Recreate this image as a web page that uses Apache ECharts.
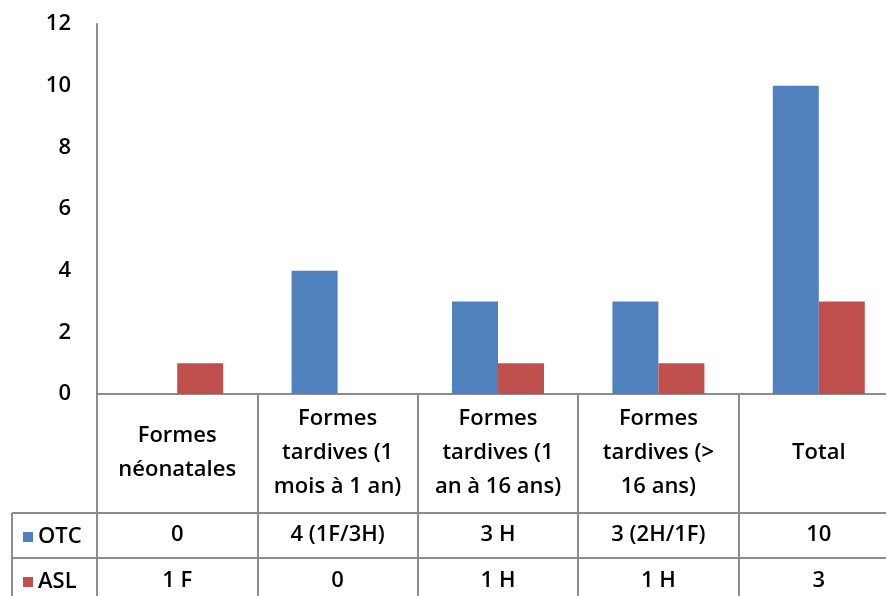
<!DOCTYPE html>
<html>
<head>
<meta charset="utf-8">
<script src="https://cdn.jsdelivr.net/npm/echarts@6/dist/echarts.min.js"></script>
<style>
  html, body { margin: 0; padding: 0; background: #fff; }
  #chart { width: 886px; height: 596px; }
</style>
</head>
<body>
<div id="chart"></div>
<script>
// Categories (table header) and the two series
const categories = [
  'Formes\nnéonatales',
  'Formes\ntardives (1\nmois à 1 an)',
  'Formes\ntardives (1\nan à 16 ans)',
  'Formes\ntardives (>\n16 ans)',
  'Total'
];
const otcValues = [0, 4, 3, 3, 10];
const aslValues = [1, 0, 1, 1, 3];
// Data-table row texts
const otcTexts = ['0', '4 (1F/3H)', '3 H', '3 (2H/1F)', '10'];
const aslTexts = ['1 F', '0', '1 H', '1 H', '3'];
const yTicks = [0, 2, 4, 6, 8, 10, 12];

const FONT = 'Open Sans';
const GRID_LEFT = 97, GRID_TOP = 24, GRID_BOTTOM = 202, GRID_WIDTH = 802;
const chart = echarts.init(document.getElementById('chart'), null, { renderer: 'canvas' });

const lineColor = '#8c8c8c';
const baseText = { fontFamily: FONT, fontSize: 22, fontWeight: 600, color: '#000' };

function rowAxis(texts, margin) {
  return {
    type: 'category',
    data: categories,
    position: 'bottom',
    axisLine: { show: false },
    axisTick: { show: false },
    axisLabel: Object.assign({}, baseText, {
      margin: margin,
      verticalAlign: 'middle',
      interval: 0,
      formatter: (v, i) => texts[i]
    })
  };
}

function keyLegend(name, top) {
  return {
    orient: 'vertical',
    left: 18, top: top,
    itemWidth: 10, itemHeight: 10,
    itemGap: 4,
    icon: 'rect',
    textStyle: Object.assign({}, baseText, { fontSize: 22 }),
    data: [name]
  };
}

const H = 596;
const axisY = H - GRID_BOTTOM;
const row1 = 513, row2 = 558;

chart.setOption({
  animation: false,
  grid: {
    left: GRID_LEFT, top: GRID_TOP, width: GRID_WIDTH, bottom: GRID_BOTTOM,
    containLabel: false, outerBoundsMode: 'none'
  },
  legend: [keyLegend('OTC', 521), keyLegend('ASL', 566)],
  xAxis: [
    {
      type: 'category',
      data: categories,
      position: 'bottom',
      axisLine: { lineStyle: { color: lineColor, width: 2 } },
      axisTick: { show: true, length: GRID_BOTTOM, alignWithLabel: false, lineStyle: { color: lineColor, width: 2 } },
      axisLabel: Object.assign({}, baseText, {
        margin: 59,
        verticalAlign: 'middle',
        lineHeight: 34,
        interval: 0
      })
    },
    rowAxis(otcTexts, row1 - axisY + 22),
    rowAxis(aslTexts, row2 - axisY + 23)
  ],
  yAxis: {
    type: 'value',
    min: 0, max: 12, interval: 2,
    axisLine: { show: true, lineStyle: { color: lineColor, width: 2 } },
    axisTick: { show: false },
    splitLine: { show: false },
    axisLabel: Object.assign({}, baseText, {
      margin: 26,
      formatter: v => yTicks.includes(v) ? String(v) : ''
    })
  },
  series: [
    { name: 'OTC', type: 'bar', data: otcValues, barWidth: 46, barGap: '0%', itemStyle: { color: '#4f81bd' } },
    { name: 'ASL', type: 'bar', data: aslValues, barWidth: 46, barGap: '0%', itemStyle: { color: '#c0504d' } }
  ],
  graphic: [
    { type: 'line', shape: { x1: 12, y1: row1, x2: 900, y2: row1 }, style: { stroke: lineColor, lineWidth: 2 } },
    { type: 'line', shape: { x1: 12, y1: row2, x2: 900, y2: row2 }, style: { stroke: lineColor, lineWidth: 2 } },
    { type: 'line', shape: { x1: 12, y1: row1, x2: 12, y2: H + 2 }, style: { stroke: lineColor, lineWidth: 2 } }
  ]
});
</script>
</body>
</html>
